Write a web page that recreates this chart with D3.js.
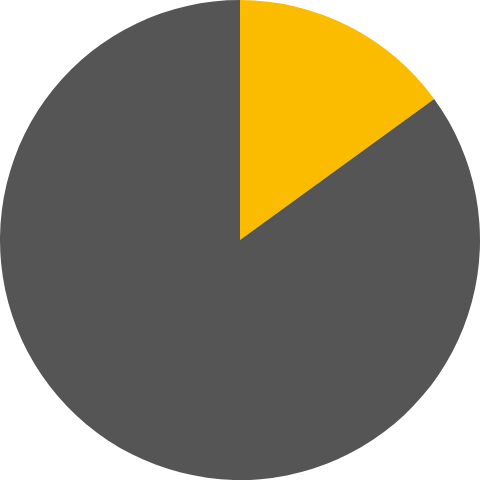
<!DOCTYPE html>
<html>
<head>
<meta charset="utf-8">
<script src="https://cdn.jsdelivr.net/npm/d3@7"></script>
<style>
  html, body { margin: 0; padding: 0; background: #fff; }
</style>
</head>
<body>
<div id="chart"></div>
<script>
// slice data, clockwise from 12 o'clock
const categories = ["A", "B"];
const values = [15, 85];
const colors = ["#FBBC00", "#555555"];

const width = 480, height = 480;
const radius = Math.min(width, height) / 2;

const svg = d3.select("#chart").append("svg")
    .attr("width", width)
    .attr("height", height)
    .append("g")
    .attr("transform", `translate(${width / 2}, ${height / 2})`);

const color = d3.scaleOrdinal()
    .domain(categories)
    .range(colors);

const pie = d3.pie()
    .sort(null)
    .value((d, i) => values[i]);

const arc = d3.arc()
    .innerRadius(0)
    .outerRadius(radius);

svg.selectAll(".slice")
    .data(pie(categories))
    .join("path")
    .attr("class", "slice")
    .attr("d", arc)
    .attr("fill", d => color(d.data));
</script>
</body>
</html>
